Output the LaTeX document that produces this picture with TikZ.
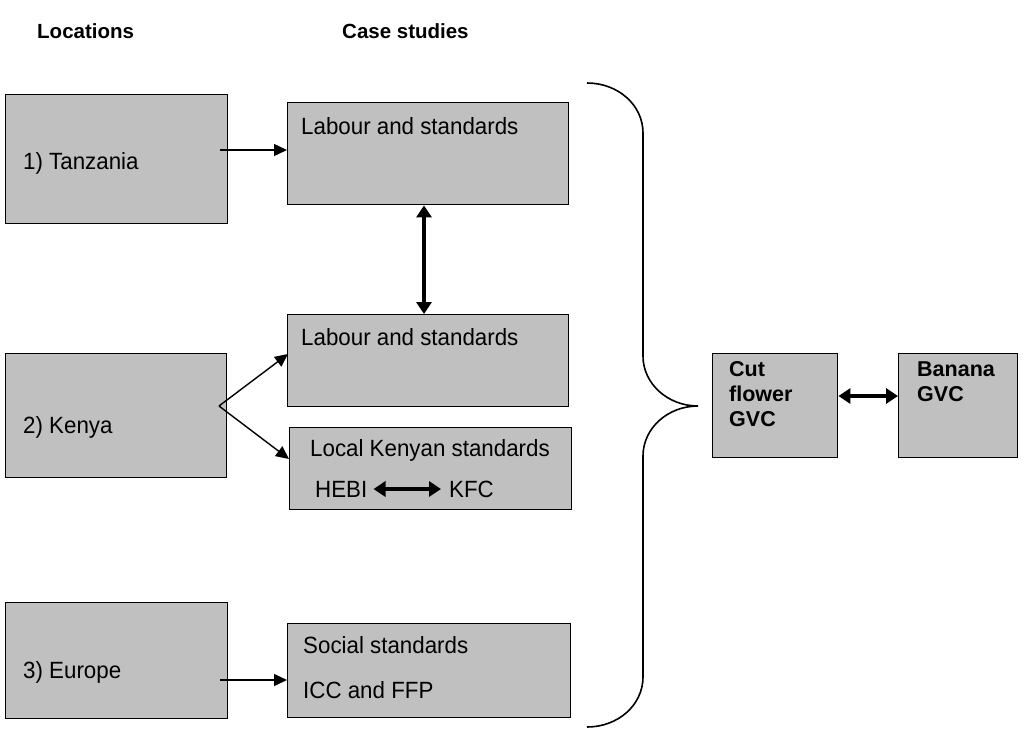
\documentclass[tikz,border=0pt]{standalone}
\usepackage{fontspec}
\setmainfont{Liberation Sans}
\newfontfamily\condfont[FakeStretch=0.95]{Liberation Sans}
\usetikzlibrary{arrows.meta,calc}
\definecolor{boxgray}{HTML}{C0C0C0}
\tikzset{
  box/.style={draw=black, line width=1.4pt, fill=boxgray, inner sep=0pt, anchor=north west},
  txt/.style={anchor=west, inner sep=0pt, font=\condfont\fontsize{23.5}{27}\selectfont},
  head/.style={anchor=west, inner sep=0pt, font=\bfseries\fontsize{20.5}{24}\selectfont},
  btxt/.style={anchor=north west, inner sep=0pt, align=left, font=\bfseries\fontsize{21.5}{25}\selectfont},
  arr/.style={line width=1.4pt, -{Triangle[length=13pt,width=12pt]}},
  darr/.style={line width=4pt, {Triangle[length=12pt,width=15pt]}-{Triangle[length=12pt,width=15pt]}},
  brace/.style={line width=1.6pt}
}
\begin{document}
\begin{tikzpicture}[x=1pt,y=-1pt]
\useasboundingbox (0,0) rectangle (1023,729);
% headings
\node[head] (hloc) at (37,31) {Locations};
\node[head] (hcase) at (342,31) {Case studies};
% boxes
\node[box, minimum width=222pt, minimum height=129pt] (T) at (5,94) {};
\node[box, minimum width=281pt, minimum height=102pt] (L1) at (287,102) {};
\node[box, minimum width=281pt, minimum height=92pt] (L2) at (287,314) {};
\node[box, minimum width=221pt, minimum height=124pt] (K) at (5,353) {};
\node[box, minimum width=282pt, minimum height=82pt] (LK) at (289,427) {};
\node[box, minimum width=222pt, minimum height=116pt] (E) at (5,602) {};
\node[box, minimum width=283pt, minimum height=94pt] (S) at (287,623) {};
\node[box, minimum width=125pt, minimum height=104pt] (C) at (712,353) {};
\node[box, minimum width=119pt, minimum height=104pt] (B) at (898,353) {};
% texts
\node[txt] (tT) at (23,163) {1) Tanzania};
\node[txt] (tL1) at (301,126) {Labour and standards};
\node[txt] (tL2) at (301,337) {Labour and standards};
\node[txt] (tK) at (23,427) {2) Kenya};
\node[txt] (tLK) at (310,450) {Local Kenyan standards};
\node[txt] (hebi) at (315,489) {HEBI};
\node[txt] (kfc) at (449,489) {KFC};
\node[txt] (tE) at (23,672) {3) Europe};
\node[txt] (tS1) at (303,645) {Social standards};
\node[txt] (tS2) at (303,690) {ICC and FFP};
\node[btxt] (tC) at (729,361) {Cut\\flower\\GVC};
\node[btxt] (tB) at (917,361) {Banana\\GVC};
% connectors
\coordinate (tfrom) at (220,150);
\draw[arr] (tfrom) -- (tfrom -| L1.west);
\coordinate (efrom) at (220,680);
\draw[arr] (efrom) -- (efrom -| S.west);
\coordinate (kfrom) at (219,406);
\coordinate (kto1) at (288,354);
\coordinate (kto2) at (289,459);
\draw[arr] (kfrom) -- (kto1);
\draw[arr] (kfrom) -- (kto2);
\coordinate (vx) at (424,0);
\draw[darr] (vx |- L1.south) -- (vx |- L2.north);
\draw[darr] ($(hebi.east)+(6,0)$) -- ($(kfc.west)+(-8,0)$);
\draw[darr] (C.east |- 0,396) -- (B.west |- 0,396);
% brace
\draw[brace] (587,83) .. controls (618,83) and (643,105) .. (643,133)
  -- (643,356) .. controls (643,384) and (668,406) .. (698,406)
  .. controls (668,406) and (643,428) .. (643,456)
  -- (643,677) .. controls (643,705) and (618,727) .. (587,727);
\end{tikzpicture}
\end{document}
